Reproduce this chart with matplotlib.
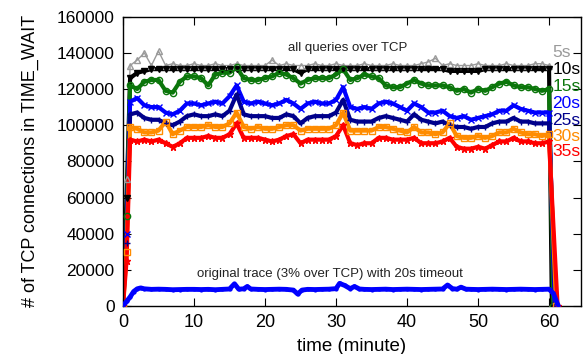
#!/usr/bin/env python3
import matplotlib
matplotlib.use('Agg')
import matplotlib.pyplot as plt

# minutes 1..60, values in thousands of TIME_WAIT connections
MINUTES = list(range(1, 61))

TCP_5S = [133, 136, 140, 133, 141, 133, 134, 133, 133, 134, 133, 133, 134, 133, 133, 134, 133, 133, 133, 133,
          136, 133, 134, 133, 133, 133, 134, 133, 133, 134, 133, 133, 133, 134, 133, 133, 133, 134, 133, 133,
          133, 134, 135, 137, 133, 134, 133, 133, 133, 134, 133, 133, 133, 134, 133, 133, 133, 134, 134, 133]
TCP_10S = [126, 129, 130, 131, 131, 131, 131, 131, 131, 131, 131, 131, 131, 131, 131, 131, 131, 131, 131, 131,
           131, 131, 131, 131, 129, 131, 131, 131, 131, 131, 131, 131, 131, 131, 131, 131, 131, 131, 131, 131,
           131, 131, 131, 131, 131, 130, 130, 130, 130, 130, 131, 131, 131, 131, 131, 131, 131, 131, 131, 131]
TCP_15S = [122, 120, 124, 125, 125, 119, 118, 124, 127, 127, 126, 122, 128, 129, 129, 132, 126, 125, 125, 126,
           127, 129, 128, 126, 123, 125, 126, 126, 126, 128, 131, 125, 126, 128, 127, 126, 122, 121, 121, 123,
           125, 123, 122, 122, 122, 121, 119, 120, 118, 120, 119, 121, 123, 124, 122, 121, 121, 120, 119, 120]
TCP_20S = [113, 115, 111, 110, 110, 107, 106, 108, 112, 112, 111, 112, 113, 112, 116, 122, 113, 112, 113, 112,
           111, 112, 114, 112, 109, 112, 113, 112, 112, 114, 121, 110, 109, 110, 109, 112, 113, 112, 110, 108,
           112, 110, 107, 107, 108, 105, 104, 105, 103, 104, 105, 106, 108, 108, 111, 109, 108, 107, 107, 107]
TCP_25S = [106, 107, 104, 103, 103, 101, 100, 102, 105, 106, 105, 105, 106, 105, 108, 117, 106, 105, 105, 105,
           104, 104, 106, 105, 101, 104, 105, 105, 105, 107, 114, 103, 102, 102, 102, 104, 105, 104, 103, 102,
           106, 103, 102, 101, 102, 100, 99, 99, 98, 99, 99, 101, 102, 102, 104, 102, 102, 101, 101, 101]
TCP_30S = [99, 98, 96, 96, 97, 102, 95, 97, 99, 99, 99, 100, 99, 99, 101, 107, 99, 98, 99, 98,
           98, 99, 100, 100, 97, 98, 98, 98, 98, 100, 107, 97, 97, 97, 97, 99, 99, 98, 97, 96,
           99, 96, 96, 95, 96, 101, 94, 93, 93, 94, 93, 94, 96, 96, 98, 96, 95, 95, 94, 95]
TCP_35S = [92, 91, 92, 91, 92, 90, 88, 90, 93, 93, 93, 94, 93, 93, 95, 101, 93, 93, 93, 92,
           91, 92, 94, 95, 90, 92, 92, 92, 92, 94, 100, 90, 89, 90, 90, 93, 93, 92, 92, 92,
           93, 90, 90, 90, 91, 93, 88, 87, 87, 88, 87, 89, 91, 91, 93, 91, 91, 90, 90, 91]
# value reached half a minute in, and the minute at which each run has drained to zero
RAMP = {'5s': 70, '10s': 60, '15s': 50, '20s': 40, '25s': 35, '30s': 30, '35s': 25}
DRAIN = {'5s': 60.3, '10s': 60.4, '15s': 60.6, '20s': 60.8, '25s': 60.9, '30s': 61.0, '35s': 61.2}

ORIG_T = [0, 0.5, 1, 1.5, 2, 2.5, 3, 4, 5, 6, 7, 8, 9, 10, 11, 12, 13, 14, 15, 15.7, 16.3, 17, 17.5, 18, 19, 20,
          21, 22, 23, 24, 24.6, 25.2, 26, 27, 28, 29, 30, 30.5, 31.2, 32, 32.6, 33.3, 34, 35, 36, 37, 38, 39, 40,
          41, 42, 43, 44, 45, 45.7, 46.4, 47, 47.6, 48.3, 49, 50, 51, 52, 53, 54, 55, 56, 57, 58, 59, 60, 60.6, 61.3]
ORIG_V = [0, 2.5, 5, 8, 9.5, 10, 9.5, 9.2, 9.3, 9.2, 9.0, 9.1, 9.2, 9.2, 9.1, 9.2, 9.0, 9.2, 9.4, 12.3, 9.3, 9.5, 10.8,
          9.4, 9.2, 9.1, 9.2, 9.3, 9.2, 8.8, 6.6, 8.8, 9.2, 9.1, 9.2, 9.3, 9.6, 12.5, 11.4, 9.6, 10.8, 9.4, 9.2, 9.1,
          9.2, 9.3, 9.1, 9.2, 9.3, 9.2, 9.1, 9.2, 9.3, 9.4, 11.6, 9.6, 9.3, 10.4, 9.3, 9.2, 9.1, 9.2, 9.3, 9.2, 9.1,
          9.2, 9.3, 9.2, 9.1, 9.2, 9.3, 7.0, 0]

LABEL_Y = {'5s': 140, '10s': 130.6, '15s': 121.2, '20s': 111.8, '25s': 102.4, '30s': 93.6, '35s': 85.3}

STYLES = {
    '5s': dict(color='#9a9a9a', marker='^', mfc='none', lw=1.0),
    '10s': dict(color='#000000', marker='v', lw=3.0),
    '15s': dict(color='#0b760b', marker='o', mfc='none', lw=3.0),
    '20s': dict(color='#0000ff', marker='x', lw=3.0),
    '25s': dict(color='#00008b', marker='+', lw=3.0),
    '30s': dict(color='#ff8c00', marker='s', mfc='none', lw=3.0),
    '35s': dict(color='#ff0000', marker='*', lw=3.0),
}


def main():
    plt.rcParams.update({
        'font.family': ['Liberation Sans', 'DejaVu Sans'],
        'xtick.direction': 'in',
        'ytick.direction': 'in',
        'xtick.top': True,
        'ytick.right': True,
    })

    series = {'5s': TCP_5S, '10s': TCP_10S, '15s': TCP_15S, '20s': TCP_20S,
              '25s': TCP_25S, '30s': TCP_30S, '35s': TCP_35S}

    fig = plt.figure(figsize=(5.84, 3.54), dpi=100)
    ax = fig.add_axes([123 / 584, 48 / 354, 458 / 584, 289.3 / 354])

    for name, vals in series.items():
        t = [0, 0.5] + MINUTES + [DRAIN[name]]
        v = [0, RAMP[name]] + vals + [0]
        v = [x * 1000 for x in v]
        st = STYLES[name]
        ax.plot(t, v, color=st['color'], linewidth=st['lw'], zorder=2)
        ax.plot(t, v, linestyle='none', marker=st['marker'], color=st['color'],
                mfc=st.get('mfc', st['color']), markersize=4.5, markeredgewidth=1.0, zorder=3)
        ax.text(60.5, LABEL_Y[name] * 1000, name, color=st['color'], fontsize=12.5,
                ha='left', va='center', zorder=5)

    ax.plot(ORIG_T, [x * 1000 for x in ORIG_V], color='#0000ff', linewidth=3.5,
            marker='.', markersize=4, zorder=4)

    ax.text(31.7, 142800, 'all queries over TCP', fontsize=9.5, ha='center', va='center', color='#222222')
    ax.text(29.2, 17700, 'original trace (3% over TCP) with 20s timeout', fontsize=9.5,
            ha='center', va='center', color='#222222')

    ax.set_xlim(0, 64.5)
    ax.set_ylim(0, 160000)
    ax.set_xticks(range(0, 61, 10))
    ax.set_yticks(range(0, 160001, 20000))
    ax.tick_params(axis='x', labelsize=13, length=6, pad=6)
    ax.tick_params(axis='y', labelsize=12.5, length=6, pad=6)
    ax.set_xlabel('time (minute)', fontsize=13.5, labelpad=5)
    ax.set_ylabel('# of TCP connections in TIME_WAIT', fontsize=13, labelpad=13)
    for s in ax.spines.values():
        s.set_linewidth(1.0)

    fig.savefig('out.png', dpi=100)
    return 0


if __name__ == '__main__':
    raise SystemExit(main())
